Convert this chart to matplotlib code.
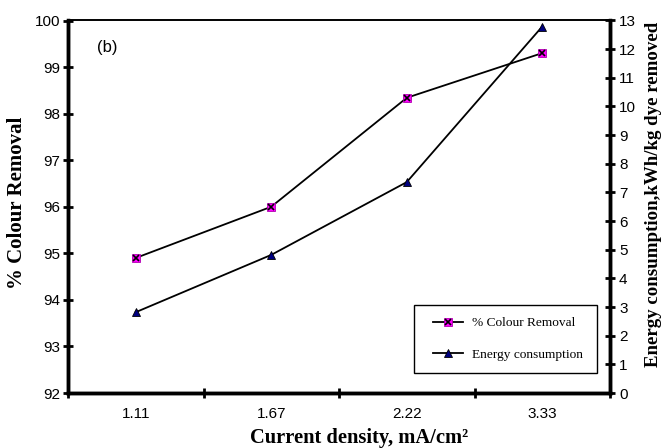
import matplotlib
matplotlib.use('Agg')
import matplotlib.pyplot as plt
from matplotlib.legend_handler import HandlerTuple
from matplotlib.patches import Rectangle
import numpy as np

current_density = ['1.11', '1.67', '2.22', '3.33']
colour_removal = [94.9, 96.0, 98.34, 99.3]
energy = [2.82, 4.82, 7.36, 12.79]


def main():
    fig = plt.figure(figsize=(6.62, 4.48), dpi=100)
    ax = fig.add_axes([68 / 662, 55 / 448, 542 / 662, 372.5 / 448])
    ax2 = ax.twinx()

    x = np.arange(len(current_density))

    l1, = ax.plot(x, colour_removal, color='black', lw=1.3, marker='s', ms=6,
                  mfc='#ff00ff', mec='#b000b0', mew=0.6, zorder=3)
    m1, = ax.plot(x, colour_removal, ls='none', marker='x', ms=5, mec='black',
                  mew=1.2, zorder=4)
    l2, = ax2.plot(x, energy, color='black', lw=1.3, marker='^', ms=6,
                   mfc='#000080', mec='black', mew=0.6, zorder=3)

    ax.set_xlim(-0.5, 3.5)
    ax.set_ylim(92, 100)
    ax2.set_ylim(0, 13)

    # tick marks at category boundaries, labels at centres
    ax.set_xticks(np.arange(-0.5, 3.6, 1.0))
    ax.set_xticklabels([])
    ax.set_xticks(x, minor=True)
    ax.set_xticklabels(current_density, minor=True)
    ax.tick_params(axis='x', which='minor', length=0, pad=10)
    ax.tick_params(axis='x', which='major', direction='inout', length=7, width=2)

    ax.set_yticks(np.arange(92, 100.1, 1))
    ax.tick_params(axis='y', direction='inout', length=7, width=2, pad=2)
    ax2.set_yticks(np.arange(0, 14, 1))
    ax2.tick_params(axis='y', direction='inout', length=7, width=2, pad=3)

    for a in (ax, ax2):
        for lab in a.get_xticklabels(which='both') + a.get_yticklabels():
            lab.set_fontfamily('Liberation Sans')
            lab.set_fontsize(11)
        a.spines['top'].set_linewidth(1.2)
        a.spines['left'].set_linewidth(2.5)
        a.spines['right'].set_linewidth(2.5)
        a.spines['bottom'].set_linewidth(2.5)

    ax.set_xlabel('Current density, mA/cm²', fontfamily='Liberation Serif',
                  fontweight='bold', fontsize=14.8)
    ax.xaxis.set_label_coords(0.537, -0.095)
    ax.set_ylabel('% Colour Removal', fontfamily='Liberation Serif',
                  fontweight='bold', fontsize=15)
    ax.yaxis.set_label_coords(-0.076, 0.51)
    ax2.set_ylabel('Energy consumption,kWh/kg dye removed', fontfamily='Liberation Serif',
                   fontweight='bold', fontsize=13.6)
    ax2.yaxis.set_label_coords(1.064, 0.532)

    ax.text(0.072, 0.927, '(b)', transform=ax.transAxes, fontfamily='Liberation Sans',
            fontsize=12, ha='center', va='center')

    # legend box drawn separately so the padding matches
    box = Rectangle((0.638, 0.055), 0.338, 0.181, transform=ax2.transAxes,
                    facecolor='white', edgecolor='black', lw=1.0, zorder=4)
    ax2.add_patch(box)
    leg = ax2.legend([(l1, m1), l2], ['% Colour Removal', 'Energy consumption'],
                     handler_map={tuple: HandlerTuple(ndivide=1)},
                     loc='center left', bbox_to_anchor=(0.673, 0.145),
                     borderpad=0, borderaxespad=0, frameon=False,
                     prop={'family': 'Liberation Serif', 'size': 9.6},
                     labelspacing=1.45, handlelength=2.25, handletextpad=0.7)
    leg.set_zorder(5)

    plt.savefig('out.png', dpi=100)


if __name__ == '__main__':
    main()
